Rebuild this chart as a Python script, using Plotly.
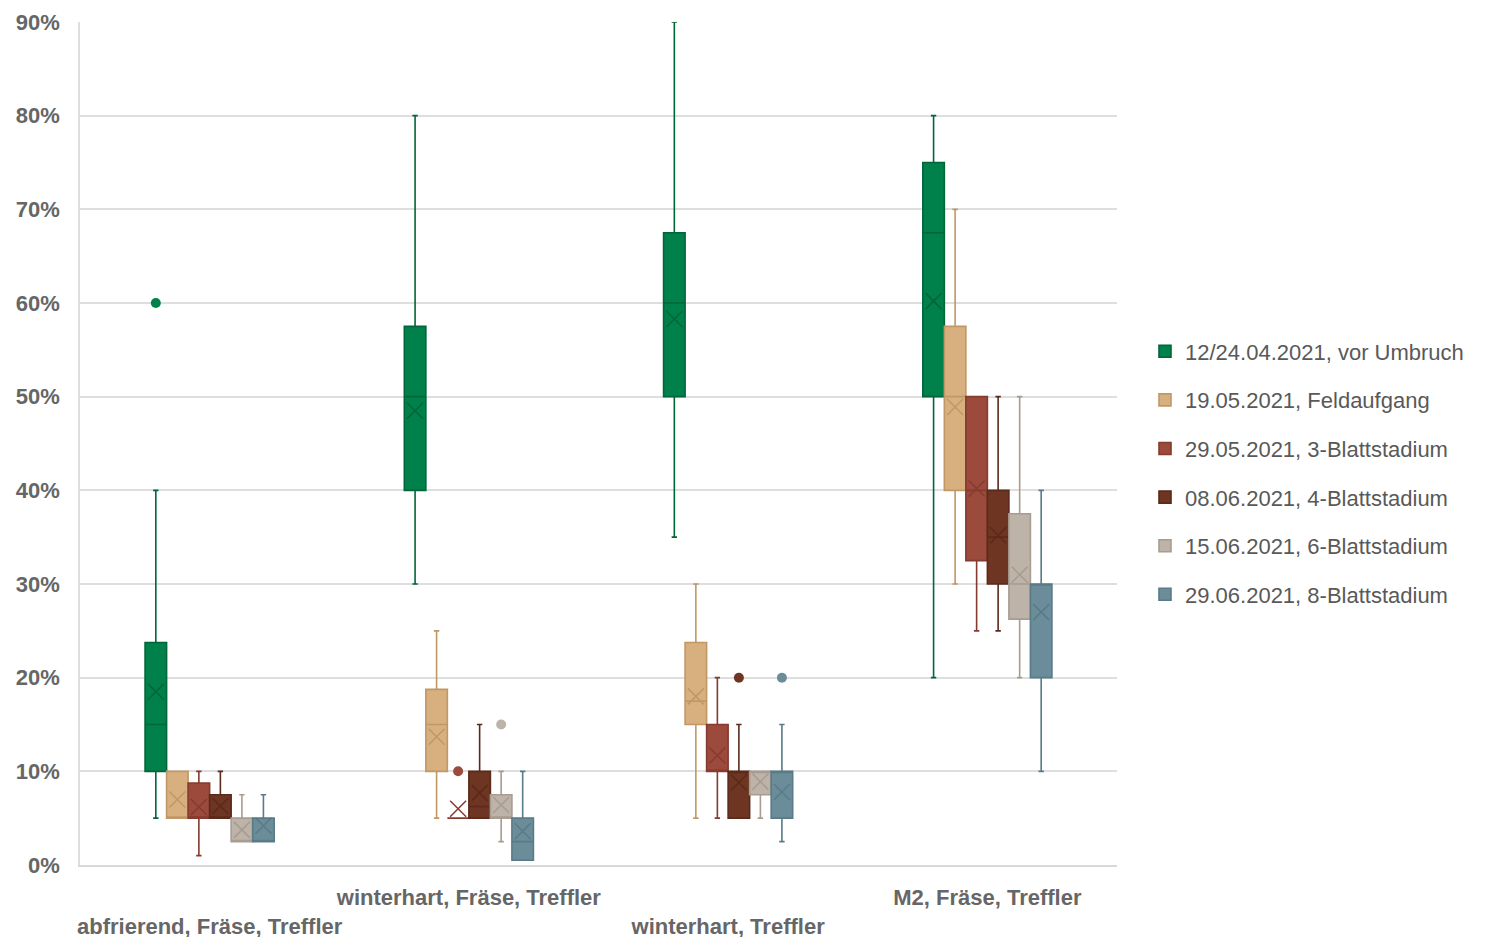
import plotly.graph_objects as go

categories = ["abfrierend, Fräse, Treffler", "winterhart, Fräse, Treffler",
              "winterhart, Treffler", "M2, Fräse, Treffler"]
series = ["12/24.04.2021, vor Umbruch", "19.05.2021, Feldaufgang",
          "29.05.2021, 3-Blattstadium", "08.06.2021, 4-Blattstadium",
          "15.06.2021, 6-Blattstadium", "29.06.2021, 8-Blattstadium"]

# values in percent, one entry per category
lowerfence = [
    [5, 30, 35, 20],
    [5, 5, 5, 30],
    [1, 5, 5, 25],
    [5, 5, 5, 25],
    [2.5, 2.5, 5, 20],
    [2.5, 0.5, 2.5, 10],
]
q1 = [
    [10, 40, 50, 50],
    [5, 10, 15, 40],
    [5, 5, 10, 32.5],
    [5, 5, 5, 30],
    [2.5, 5, 7.5, 26.25],
    [2.5, 0.5, 5, 20],
]
median = [
    [15, 50, 60, 67.5],
    [5, 15, 17.5, 50],
    [5, 5, 10, 40],
    [5, 6.25, 10, 35],
    [2.5, 5, 10, 30],
    [2.5, 2.5, 10, 30],
]
q3 = [
    [23.75, 57.5, 67.5, 75],
    [10, 18.75, 23.75, 57.5],
    [8.75, 5, 15, 50],
    [7.5, 10, 10, 40],
    [5, 7.5, 10, 37.5],
    [5, 5, 10, 30],
]
upperfence = [
    [40, 80, 90, 80],
    [10, 25, 30, 70],
    [10, 5, 20, 50],
    [10, 15, 15, 50],
    [7.5, 10, 10, 50],
    [7.5, 10, 15, 40],
]
mean = [
    [18.5, 48.5, 58.3, 60.2],
    [7.0, 13.7, 18.0, 48.9],
    [6.2, 6.0, 11.7, 40.2],
    [6.3, 7.7, 8.8, 35.2],
    [3.75, 6.4, 8.9, 31.0],
    [4.2, 3.6, 7.8, 27.0],
]
# outliers: (category index, value)
outliers = [
    [(0, 60)],
    [],
    [(1, 10)],
    [(2, 20)],
    [(1, 15)],
    [(2, 20)],
]

fills = ["#00804A", "#D8B07F", "#9B4A3C", "#6E3522", "#BEB3A8", "#6A8D99"]
lines = ["#00663A", "#BF9866", "#853B2F", "#5A2A1A", "#A89C90", "#587B87"]

box_w = 0.083
fig = go.Figure()
for j, name in enumerate(series):
    off = (j - 2.5) * box_w
    xs = [i + off for i in range(len(categories))]
    fig.add_trace(go.Box(
        name=name, x=xs,
        q1=q1[j], median=median[j], q3=q3[j],
        lowerfence=lowerfence[j], upperfence=upperfence[j],
        width=box_w, whiskerwidth=0.25,
        fillcolor=fills[j], line=dict(color=lines[j], width=1.6),
        boxpoints=False, legendgroup=name, hoverinfo="skip",
    ))
    fig.add_trace(go.Scatter(
        x=xs, y=mean[j], mode="markers", showlegend=False, legendgroup=name,
        marker=dict(symbol="x-thin", size=16,
                    line=dict(color=lines[j], width=1.5)),
        hoverinfo="skip",
    ))
    if outliers[j]:
        fig.add_trace(go.Scatter(
            x=[c + off for c, v in outliers[j]], y=[v for c, v in outliers[j]],
            mode="markers", showlegend=False, legendgroup=name,
            marker=dict(symbol="circle", size=10, color=fills[j]),
            hoverinfo="skip",
        ))

ticktext = []
for i, c in enumerate(categories):
    ticktext.append((" <br>" + c) if i % 2 == 0 else c)

fig.update_layout(
    width=1494, height=937,
    margin=dict(l=72, r=385, t=14, b=80, autoexpand=False),
    plot_bgcolor="white", paper_bgcolor="white",
    font=dict(family="Liberation Sans, Arial", color="#666666"),
    xaxis=dict(range=[-0.5, 3.5], tickvals=list(range(len(categories))),
               ticktext=ticktext, tickangle=0, automargin=False,
               showgrid=False, zeroline=False,
               showline=True, linecolor="#d9d9d9", linewidth=1.5, ticks="",
               ticklabelstandoff=12,
               tickfont=dict(size=22, color="#666666", weight="bold")),
    yaxis=dict(range=[0, 90], dtick=10, ticksuffix="%", automargin=False,
               showgrid=True, gridcolor="#dedede", gridwidth=1.5,
               zeroline=False, showline=True, linecolor="#dedede", linewidth=1.5,
               tickfont=dict(size=22, color="#666666", weight="bold"),
               ticklabelstandoff=14),
    legend=dict(x=1.027, xanchor="left", y=0.465, yanchor="middle",
                font=dict(size=22, color="#595959"), tracegroupgap=17,
                bgcolor="rgba(0,0,0,0)"),
    showlegend=True,
)

fig.write_html("out.html")
